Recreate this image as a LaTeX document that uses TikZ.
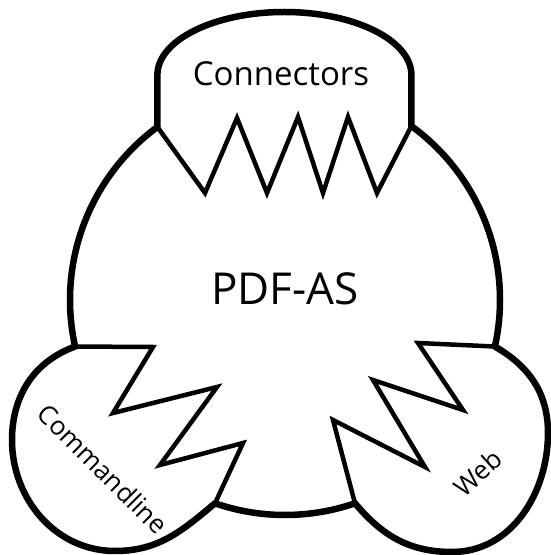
\documentclass[tikz,border=0pt]{standalone}
\usepackage{fontspec}
\setmainfont{Open Sans}

\begin{document}
\begin{tikzpicture}
[x=1pt,y=1pt,outline/.style={black,line width=6.5pt,line join=round},zigline/.style={black,line width=4.5pt,line join=miter},biglabel/.style={font=\fontsize{44}{50}\selectfont},midlabel/.style={font=\fontsize{33}{38}\selectfont},smalllabel/.style={font=\fontsize{26}{30}\selectfont}]

\useasboundingbox (0,0) rectangle (551,555);

% main circle and its junctions
\coordinate (core) at (285,255);
\path (core) ++(126.4:215) coordinate (j1);
\path (core) ++(54:215) coordinate (j2);
\path (core) ++(192.5:215) coordinate (j3);
\path (core) ++(-12.5:215) coordinate (j4);
\path (core) ++(251:215) coordinate (j5);
\path (core) ++(289:215) coordinate (j6);

% outline
\draw[outline] (j1) arc[start angle=126.4, end angle=192.5, radius=215]
  to[out=200,in=90] (12,115) to[out=270,in=180] (115,4) to[out=0,in=220] (j5)
  arc[start angle=251, end angle=289, radius=215]
  to[out=-50,in=180] (452,3) to[out=0,in=270] (548,122) to[out=90,in=-30] (j4)
  arc[start angle=-12.5, end angle=54, radius=215]
  -- (411.4,480) arc[start angle=0, end angle=180, x radius=127, y radius=63] -- cycle;

% Connectors teeth
\draw[zigline] (j1) -- (205,362) -- (237,437) -- (267,362) -- (298,438) -- (323,362) -- (348,438) -- (377,362) -- (j2);

% Commandline teeth
\draw[zigline] (j3) -- (153,208) -- (113,142) -- (217,168) -- (160,90) -- (243,112) -- (j5);

% Web teeth
\draw[zigline] (j4) -- (418,212) -- (463,145) -- (373,175) -- (425,88) -- (333,135) -- (j6);

% labels
\node[biglabel](pdfas) at (285,266.5){PDF-AS};
\node[midlabel](connectors) at (281,481){Connectors};
\node[smalllabel,rotate=-45](commandline) at (103,86){Commandline};
\node[smalllabel,rotate=42](web) at (478,82){Web};

\end{tikzpicture}
\end{document}
